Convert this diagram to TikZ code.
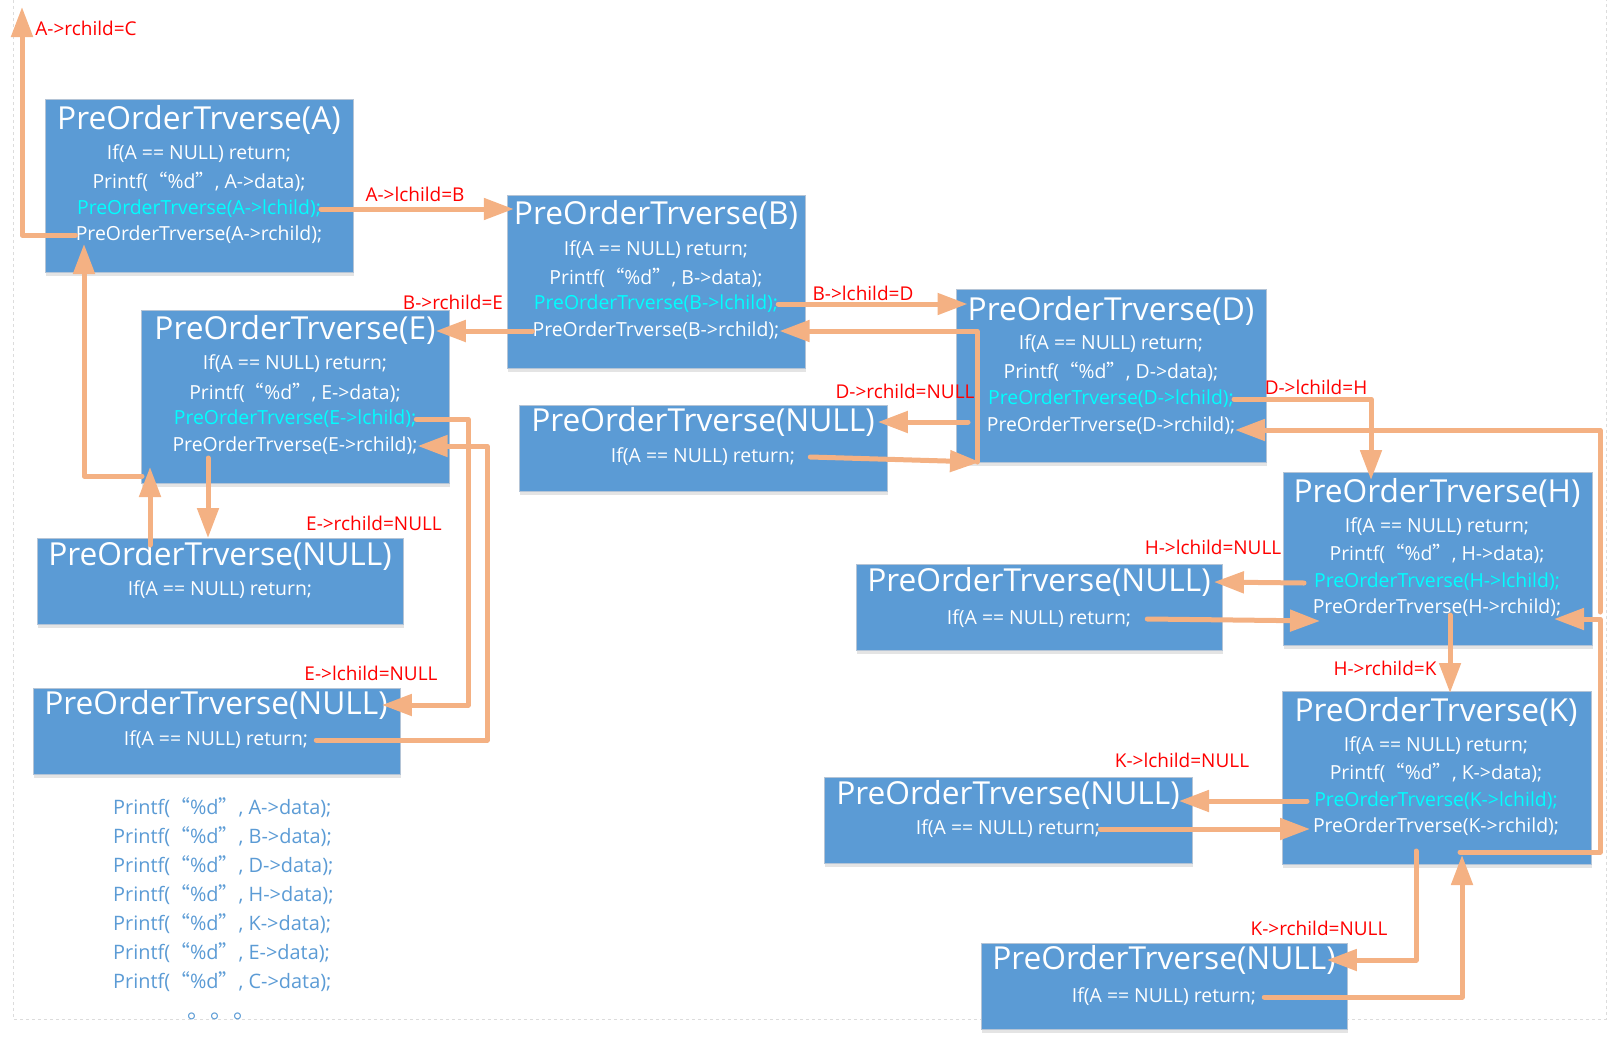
\documentclass[tikz,border=0pt]{standalone}
\usepackage{fontspec}
\setmainfont{Open Sans}
\newfontfamily\cjkq[RawFeature=+fwid]{Noto Sans CJK SC}
\usetikzlibrary{arrows.meta,shadows,calc}
\definecolor{boxblue}{HTML}{5B9BD5}
\definecolor{orng}{HTML}{F4B183}
\definecolor{lblred}{HTML}{FF0000}
\definecolor{cyn}{HTML}{00FFFF}
\definecolor{boxedge}{HTML}{B4C4D6}
\definecolor{pgline}{HTML}{DCDCDC}
\newcommand{\pf}[1]{Printf({\cjkq “}\%d{\cjkq ”}, #1->data);}
\begin{document}
\begin{tikzpicture}[x=1pt,y=-1pt,
  bx/.style={anchor=north west, draw=boxedge, line width=1pt, fill=boxblue, inner sep=0pt,
    drop shadow={shadow xshift=0pt, shadow yshift=-3pt, opacity=0.15, fill=black!70}},
  bigbox/.style={bx, minimum width=#1, minimum height=173pt},
  nullbox/.style={bx, minimum width=#1, minimum height=86pt},
  ttl/.style={text=white, font=\fontsize{31.7}{36}\selectfont, inner sep=0pt},
  ln/.style={text=white, font=\fontsize{19.4}{22}\selectfont, inner sep=0pt},
  lnc/.style={ln, text=cyn},
  lbl/.style={text=lblred, font=\fontsize{19}{22}\selectfont, inner sep=0pt},
  outp/.style={text=boxblue, font=\fontsize{19.9}{22}\selectfont, inner sep=0pt, anchor=west},
  arr/.style={draw=orng, line width=5pt, line cap=round, line join=round, -{Triangle[length=30pt,width=21pt]}}
]
\useasboundingbox (0,0) rectangle (1624,1044);
\draw[pgline, dashed, line width=0.8pt] (13,0) -- (13,1019) -- (1606,1019) -- (1606,0);

% ---------- big boxes ----------
\node[bigbox=308pt] (A) at (45,99) {};
\node[bigbox=298pt] (B) at (507,195) {};
\node[bigbox=308pt] (E) at (141,310) {};
\node[bigbox=310pt] (D) at (956,289) {};
\node[bigbox=309pt] (H) at (1283,472) {};
\node[bigbox=309pt] (K) at (1282,691) {};
% ---------- NULL boxes ----------
\node[nullbox=366pt] (N1) at (37,538) {};
\node[nullbox=367pt] (N2) at (33,688) {};
\node[nullbox=368pt] (N3) at (519,405) {};
\node[nullbox=366pt] (N4) at (856,564) {};
\node[nullbox=368pt] (N5) at (824,777) {};
\node[nullbox=366pt] (N6) at (981,943) {};

% ---------- texts of big boxes ----------
\node[ttl] (At) at (199,120) {PreOrderTrverse(A)};
\node[ln]  (A1) at (199,154) {If(A == NULL) return;};
\node[ln]  (A2) at (199,182) {\pf{A}};
\node[lnc] (A3) at (199,209) {PreOrderTrverse(A->lchild);};
\node[ln]  (A4) at (199,235) {PreOrderTrverse(A->rchild);};

\node[ttl] (Bt) at (656,215) {PreOrderTrverse(B)};
\node[ln]  (B1) at (656,250) {If(A == NULL) return;};
\node[ln]  (B2) at (656,278) {\pf{B}};
\node[lnc] (B3) at (656,304) {PreOrderTrverse(B->lchild);};
\node[ln]  (B4) at (656,331) {PreOrderTrverse(B->rchild);};

\node[ttl] (Et) at (295,330) {PreOrderTrverse(E)};
\node[ln]  (E1) at (295,364) {If(A == NULL) return;};
\node[ln]  (E2) at (295,393) {\pf{E}};
\node[lnc] (E3) at (295,419) {PreOrderTrverse(E->lchild);};
\node[ln]  (E4) at (295,446) {PreOrderTrverse(E->rchild);};

\node[ttl] (Dt) at (1111,311) {PreOrderTrverse(D)};
\node[ln]  (D1) at (1111,344) {If(A == NULL) return;};
\node[ln]  (D2) at (1111,372) {\pf{D}};
\node[lnc] (D3) at (1111,399) {PreOrderTrverse(D->lchild);};
\node[ln]  (D4) at (1111,426) {PreOrderTrverse(D->rchild);};

\node[ttl] (Ht) at (1437,493) {PreOrderTrverse(H)};
\node[ln]  (H1) at (1437,527) {If(A == NULL) return;};
\node[ln]  (H2) at (1437,554) {\pf{H}};
\node[lnc] (H3) at (1437,582) {PreOrderTrverse(H->lchild);};
\node[ln]  (H4) at (1437,608) {PreOrderTrverse(H->rchild);};

\node[ttl] (Kt) at (1436,712) {PreOrderTrverse(K)};
\node[ln]  (K1) at (1436,746) {If(A == NULL) return;};
\node[ln]  (K2) at (1436,773) {\pf{K}};
\node[lnc] (K3) at (1436,801) {PreOrderTrverse(K->lchild);};
\node[ln]  (K4) at (1436,827) {PreOrderTrverse(K->rchild);};

% ---------- texts of NULL boxes ----------
\node[ttl] (N1t) at (220,556) {PreOrderTrverse(NULL)};
\node[ln]  (N1b) at (220,590) {If(A == NULL) return;};
\node[ttl] (N2t) at (216,705) {PreOrderTrverse(NULL)};
\node[ln]  (N2b) at (216,740) {If(A == NULL) return;};
\node[ttl] (N3t) at (703,422) {PreOrderTrverse(NULL)};
\node[ln]  (N3b) at (703,457) {If(A == NULL) return;};
\node[ttl] (N4t) at (1039,582) {PreOrderTrverse(NULL)};
\node[ln]  (N4b) at (1039,619) {If(A == NULL) return;};
\node[ttl] (N5t) at (1008,795) {PreOrderTrverse(NULL)};
\node[ln]  (N5b) at (1008,829) {If(A == NULL) return;};
\node[ttl] (N6t) at (1164,960) {PreOrderTrverse(NULL)};
\node[ln]  (N6b) at (1164,997) {If(A == NULL) return;};

% ---------- red labels ----------
\node[lbl] (l1)  at (86,28)    {A->rchild=C};
\node[lbl] (l2)  at (415,194)  {A->lchild=B};
\node[lbl] (l3)  at (453,302)  {B->rchild=E};
\node[lbl] (l4)  at (863,293)  {B->lchild=D};
\node[lbl] (l5)  at (905,391)  {D->rchild=NULL};
\node[lbl] (l6)  at (1316,387) {D->lchild=H};
\node[lbl] (l7)  at (374,523)  {E->rchild=NULL};
\node[lbl] (l8)  at (371,673)  {E->lchild=NULL};
\node[lbl] (l9)  at (1213,547) {H->lchild=NULL};
\node[lbl] (l10) at (1385,668) {H->rchild=K};
\node[lbl] (l11) at (1182,760) {K->lchild=NULL};
\node[lbl] (l12) at (1319,928) {K->rchild=NULL};

% ---------- output list ----------
\node[outp] (o1) at (113,808) {\pf{A}};
\node[outp] (o2) at (113,837) {\pf{B}};
\node[outp] (o3) at (113,866) {\pf{D}};
\node[outp] (o4) at (113,895) {\pf{H}};
\node[outp] (o5) at (113,924) {\pf{K}};
\node[outp] (o6) at (113,953) {\pf{E}};
\node[outp] (o7) at (113,982) {\pf{C}};
\node[text=boxblue, font={\cjkq\fontsize{23}{26}\selectfont}, inner sep=0pt, anchor=base west] (dots) at (187,1018) {。。。};

% ---------- connectors ----------
\coordinate (Ctop) at (22,7);
\draw[arr] (A4.west) -| (Ctop);
\draw[arr] (A3.east) -- (A3.east -| Bt.west);
\draw[arr] (B3.east) -- (B3.east -| Dt.west);
\draw[arr] (B4.west) -- (B4.west -| Et.east);
\draw[arr] (E3.east) -- (468,419) |- ([xshift=-6pt]N2t.east);
\draw[arr] ([xshift=8pt]N2b.east) -| (487,446) -- (E4.east);
\coordinate (e1) at (208,458);
\draw[arr] (e1) -- (e1 |- N1.north);
\coordinate (n1up) at (150,545);
\draw[arr] (n1up) -- (150,467);
\coordinate (e2) at (142,476);
\draw[arr] (e2) -| (84,244);
\draw[arr] (D3.east) -| (1371,480);
\draw[arr] (968,422) -- ([xshift=3pt]N3t.east);
\draw[arr] ([xshift=15pt]N3b.east) -- (980,462);
\draw[arr] (977,462) |- (B4.east);
\draw[arr] (1304,583) -- ([xshift=3pt]N4t.east);
\draw[arr] ([xshift=16pt]N4b.east) -- (1320,621);
\draw[arr] (1450,615) -- (1450,693);
\draw[arr] (1460,852) -| (1600,619) -- (1554,619);
\draw[arr] (1600,612) -- (1600,430) -- (1235,430);
\draw[arr] (1307,801) -- (1179,801);
\draw[arr] ([xshift=0pt]N5b.east) -- (1310,829);
\draw[arr] (1416,851) |- ([xshift=-9pt]N6t.east);
\draw[arr] ([xshift=8pt]N6b.east) -| (1462,855);
\end{tikzpicture}
\end{document}
